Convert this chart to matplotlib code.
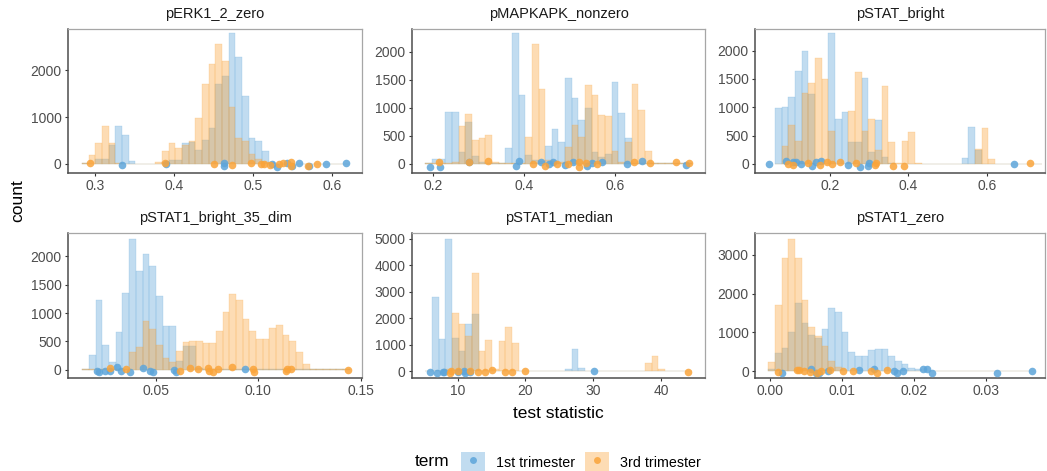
import numpy as np
import matplotlib
matplotlib.use("Agg")
import matplotlib.pyplot as plt
from matplotlib.patches import Patch
from matplotlib.lines import Line2D
from matplotlib.legend_handler import HandlerTuple

plt.rcParams.update({
    "font.family": ["Liberation Sans", "DejaVu Sans"],
    "font.size": 10,
})

C1, C3 = "#5DA5DA", "#FAA43A"
TERMS = ["1st trimester", "3rd trimester"]
PANELS = ["pERK1_2_zero", "pMAPKAPK_nonzero", "pSTAT_bright",
          "pSTAT1_bright_35_dim", "pSTAT1_median", "pSTAT1_zero"]

# histogram bins: first edge, width (40 bins per panel)
BIN_START = [0.2840, 0.18318, 0.05957, 0.01403, 5.238, -0.000185]
BIN_WIDTH = [0.008414, 0.014625, 0.017021, 0.003263, 0.982, 0.000926]

# counts per bin, 1st / 3rd trimester
perk_1st = [10, 5, 114, 114, 400, 807, 614, 57, 5, 5, 5, 5, 40, 90, 90, 450, 471, 293, 507, 771,
            1700, 1879, 2793, 2279, 1450, 564, 486, 286, 43, 5, 5, 5, 5, 5, 5, 5, 5, 5, 5, 5]
perk_3rd = [20, 186, 457, 807, 457, 10, 5, 5, 5, 5, 5, 40, 271, 457, 330, 414, 486, 971, 1707, 2129,
            2564, 2186, 1221, 543, 486, 221, 114, 43, 20, 5, 5, 5, 5, 5, 5, 5, 5, 5, 5, 5]
mapk_1st = [5, 77, 77, 917, 917, 208, 744, 137, 30, 10, 5, 5, 274, 2333, 1220, 155, 60, 40, 315, 619,
            387, 1524, 1173, 774, 988, 202, 125, 167, 1452, 899, 452, 20, 10, 5, 5, 5, 5, 5, 5, 5]
mapk_3rd = [18, 10, 10, 10, 24, 673, 881, 423, 458, 512, 30, 5, 5, 10, 10, 470, 2137, 1333, 60, 40,
            30, 298, 690, 476, 1405, 1220, 869, 851, 226, 30, 387, 1417, 952, 220, 15, 5, 5, 5, 5, 5]
stat_1st = [982, 1000, 1176, 1641, 1994, 1235, 5, 5, 2312, 788, 912, 382, 382, 1518, 218, 771, 118, 10, 5, 5,
            5, 5, 5, 5, 5, 5, 5, 5, 100, 647, 250, 5, 5, 5, 5, 5, 5, 5, 5, 5]
stat_3rd = [5, 312, 688, 400, 1247, 1424, 1871, 1494, 582, 5, 5, 935, 1624, 582, 788, 247, 1376, 382, 10, 400,
            559, 18, 5, 5, 5, 5, 5, 5, 5, 5, 259, 629, 82, 5, 5, 5, 5, 5, 5, 5]
dim_1st = [18, 265, 1224, 441, 129, 659, 1353, 2306, 1735, 2047, 1835, 1306, 765, 765, 147, 412, 412, 30, 10, 5,
           5, 5, 5, 5, 5, 5, 5, 5, 5, 5, 5, 5, 5, 5, 5, 5, 5, 5, 5, 5]
dim_3rd = [5, 5, 5, 5, 5, 5, 5, 306, 394, 853, 724, 429, 200, 135, 335, 488, 512, 512, 471, 471,
           688, 1018, 1335, 1224, 900, 676, 541, 541, 735, 782, 606, 500, 312, 100, 10, 5, 5, 5, 5, 5]
med_1st = [20, 2818, 1220, 4981, 1270, 767, 1799, 2176, 30, 20, 10, 5, 5, 5, 5, 5, 5, 5, 5, 5,
           5, 75, 830, 138, 5, 5, 5, 5, 5, 5, 5, 5, 5, 20, 20, 5, 5, 5, 5, 5]
med_3rd = [5, 5, 5, 100, 2214, 1774, 1346, 3698, 767, 1182, 100, 1145, 1686, 1082, 5, 5, 5, 5, 5, 5,
           5, 5, 5, 5, 5, 5, 5, 5, 5, 5, 5, 5, 5, 327, 579, 75, 5, 5, 5, 5]
zero_1st = [50, 463, 591, 1000, 1748, 1234, 934, 850, 1088, 1637, 1534, 1020, 506, 394, 394, 548, 574, 566, 403, 274,
            189, 77, 60, 10, 5, 5, 5, 5, 5, 5, 5, 5, 5, 5, 5, 5, 5, 5, 5, 5]
zero_3rd = [249, 1705, 2905, 3393, 2905, 1834, 1131, 908, 651, 274, 120, 20, 10, 5, 5, 5, 5, 5, 5, 5,
            5, 5, 5, 5, 5, 5, 5, 5, 5, 5, 5, 5, 5, 5, 5, 5, 5, 5, 5, 5]

# observed statistics (points, jittered around 0)
perk_px1 = [0.3341, 0.3904, 0.4637, 0.4632, 0.5234, 0.5301, 0.5432, 0.5486, 0.5575, 0.5705, 0.5924, 0.6176]
perk_py1 = [-14, -7, 28, -50, 0, -64, 28, -43, 14, -36, 7, 14]
perk_px3 = [0.2945, 0.3883, 0.4510, 0.4737, 0.4969, 0.5099, 0.5141, 0.5209, 0.5331, 0.5373, 0.5474, 0.5482,
            0.5692, 0.5810]
perk_py3 = [14, 21, -7, -14, 28, 7, 7, -28, 7, 21, -43, 43, -43, -7]
mapk_px1 = [0.1927, 0.2146, 0.2797, 0.3821, 0.3894, 0.4369, 0.4559, 0.4632, 0.4903, 0.5071, 0.5378, 0.5495,
            0.5722, 0.6256, 0.6592, 0.7558]
mapk_py1 = [-54, -54, 36, -36, 48, 24, 0, 36, -18, 24, -36, 12, 24, -6, 42, -30]
mapk_px3 = [0.2124, 0.2782, 0.3199, 0.4194, 0.4464, 0.4720, 0.4976, 0.5203, 0.5203, 0.5356, 0.5612, 0.6424,
            0.6775, 0.7338, 0.7631]
mapk_py3 = [24, 24, 48, -6, -36, -12, 0, 36, -54, 12, -12, 36, 18, 30, 12]
stat_px1 = [0.0451, 0.0877, 0.1047, 0.1132, 0.1251, 0.1532, 0.1634, 0.1770, 0.2468, 0.2766, 0.2979, 0.3004, 0.6698]
stat_py1 = [-6, 53, 41, 29, 0, -41, 41, 47, -12, -47, -41, 18, 0]
stat_px3 = [0.0936, 0.1064, 0.1447, 0.1745, 0.1915, 0.2060, 0.2264, 0.2664, 0.3149, 0.3174, 0.3600, 0.3889, 0.7106]
stat_py3 = [-6, -18, 24, -18, 41, 6, 35, 18, -18, 24, -35, -41, 24]
dim_px1 = [0.0214, 0.0222, 0.0250, 0.0277, 0.0310, 0.0331, 0.0375, 0.0437, 0.0473, 0.0486, 0.0587, 0.0600, 0.0935]
dim_py1 = [-29, -47, -29, -29, 41, -29, -41, 29, -29, -35, 0, -47, 12]
dim_px3 = [0.0274, 0.0352, 0.0617, 0.0666, 0.0706, 0.0755, 0.0759, 0.0777, 0.0804, 0.0873, 0.0972, 0.0979,
           0.1134, 0.1139, 0.1158, 0.1436]
dim_py3 = [29, 12, -29, 29, 6, 29, -29, -47, 18, 41, 12, -47, -29, 18, 18, 0]
med_px1 = [5.876, 6.956, 7.84, 8.04, 10.0, 10.88, 11.03, 11.87, 30.13]
med_py1 = [-25, -50, -38, -38, -25, 13, -50, -38, 13]
med_px3 = [8.82, 9.07, 10.0, 11.87, 12.95, 13.98, 15.06, 17.02, 18.0, 19.97, 44.0]
med_py3 = [-50, 25, 0, 13, -38, -13, 50, -38, -38, 25, -13]
zero_px1 = [0.00167, 0.00569, 0.00644, 0.00690, 0.00815, 0.01245, 0.01454, 0.01727, 0.01764, 0.01856,
            0.02134, 0.02190, 0.02250, 0.03153, 0.03639]
zero_py1 = [-43, 69, -43, -43, 17, 26, 51, 9, -43, 9, 60, 51, -34, -34, 17]
zero_px3 = [0.00120, 0.00384, 0.00412, 0.00477, 0.00560, 0.00653, 0.00708, 0.00838, 0.01014, 0.01162,
            0.01407, 0.01495, 0.01634]
zero_py3 = [-26, 26, 34, 17, -9, -43, 9, 34, 9, 9, 17, -34, 26]

HIST = [(perk_1st, perk_3rd), (mapk_1st, mapk_3rd), (stat_1st, stat_3rd),
        (dim_1st, dim_3rd), (med_1st, med_3rd), (zero_1st, zero_3rd)]
PTS = [((perk_px1, perk_py1), (perk_px3, perk_py3)), ((mapk_px1, mapk_py1), (mapk_px3, mapk_py3)),
       ((stat_px1, stat_py1), (stat_px3, stat_py3)), ((dim_px1, dim_py1), (dim_px3, dim_py3)),
       ((med_px1, med_py1), (med_px3, med_py3)), ((zero_px1, zero_py1), (zero_px3, zero_py3))]

XTICKS = [[0.3, 0.4, 0.5, 0.6], [0.2, 0.4, 0.6], [0.2, 0.4, 0.6],
          [0.05, 0.10, 0.15], [10, 20, 30, 40], [0.00, 0.01, 0.02, 0.03]]
XTICKLABELS = [["0.3", "0.4", "0.5", "0.6"], ["0.2", "0.4", "0.6"], ["0.2", "0.4", "0.6"],
               ["0.05", "0.10", "0.15"], ["10", "20", "30", "40"], ["0.00", "0.01", "0.02", "0.03"]]
YTICKS = [[0, 1000, 2000], [0, 500, 1000, 1500, 2000], [0, 500, 1000, 1500, 2000],
          [0, 500, 1000, 1500, 2000], [0, 1000, 2000, 3000, 4000, 5000], [0, 1000, 2000, 3000]]
XLIM = [(0.2663, 0.6374), (0.1539, 0.7975), (0.0084, 0.749),
        (0.00701, 0.1506), (3.27, 46.48), (-0.00204, 0.03824)]
YLIM = [(-193, 2879), (-167, 2405), (-159, 2382), (-147, 2412), (-252, 5220), (-171, 3556)]

W, H = 1047, 471
fig = plt.figure(figsize=(W / 100, H / 100), dpi=100)
col_left = [68, 412, 755]
col_w = [294, 293, 290]
row_top = [29, 233]
row_h = [144, 145]

for k, name in enumerate(PANELS):
    r, c = divmod(k, 3)
    ax = fig.add_axes([col_left[c] / W, 1 - (row_top[r] + row_h[r]) / H, col_w[c] / W, row_h[r] / H])
    edges = BIN_START[k] + BIN_WIDTH[k] * np.arange(41)
    for counts, col in zip(HIST[k], (C1, C3)):
        ax.bar(edges[:-1], counts, width=BIN_WIDTH[k], align="edge", color=col, alpha=0.38,
               edgecolor=col, linewidth=0.35, zorder=2)
    for (px, py), col in zip(PTS[k], (C1, C3)):
        ax.scatter(px, py, s=30, color=col, alpha=0.85, linewidths=0, zorder=3)
    ax.set_xlim(*XLIM[k])
    ax.set_ylim(*YLIM[k])
    ax.set_xticks(XTICKS[k])
    ax.set_xticklabels(XTICKLABELS[k])
    ax.set_yticks(YTICKS[k])
    ax.set_yticklabels([str(v) for v in YTICKS[k]])
    ax.tick_params(length=2.5, width=0.8, color="#333333", labelsize=10, labelcolor="#4d4d4d", pad=2)
    for s in ("left", "bottom"):
        ax.spines[s].set_color("#4d4d4d")
        ax.spines[s].set_linewidth(1.1)
    for s in ("top", "right"):
        ax.spines[s].set_color("#a6a6a6")
        ax.spines[s].set_linewidth(0.9)
    ax.set_title(name, fontsize=10.5, color="#1a1a1a", pad=8)

fig.text(18 / W, 1 - 201 / H, "count", rotation=90, ha="center", va="center", fontsize=12.5)
fig.text(558 / W, 1 - 413 / H, "test statistic", ha="center", va="center", fontsize=12.5)
fig.text(432 / W, 1 - 462 / H, "term", ha="center", va="center", fontsize=12.5)

handles = [(Patch(facecolor=col, alpha=0.38, edgecolor="none"),
            Line2D([], [], marker="o", color=col, alpha=0.85, ls="", markersize=5, markeredgewidth=0))
           for col in (C1, C3)]
fig.legend(handles, TERMS, handler_map={tuple: HandlerTuple(ndivide=1, pad=0)},
           loc="center", bbox_to_anchor=(581 / W, 1 - 462 / H), ncol=2, frameon=False,
           fontsize=10.3, handlelength=1.68, handleheight=1.68, handletextpad=0.75,
           columnspacing=0.7, borderpad=0.2)

fig.savefig("out.png", dpi=100)
